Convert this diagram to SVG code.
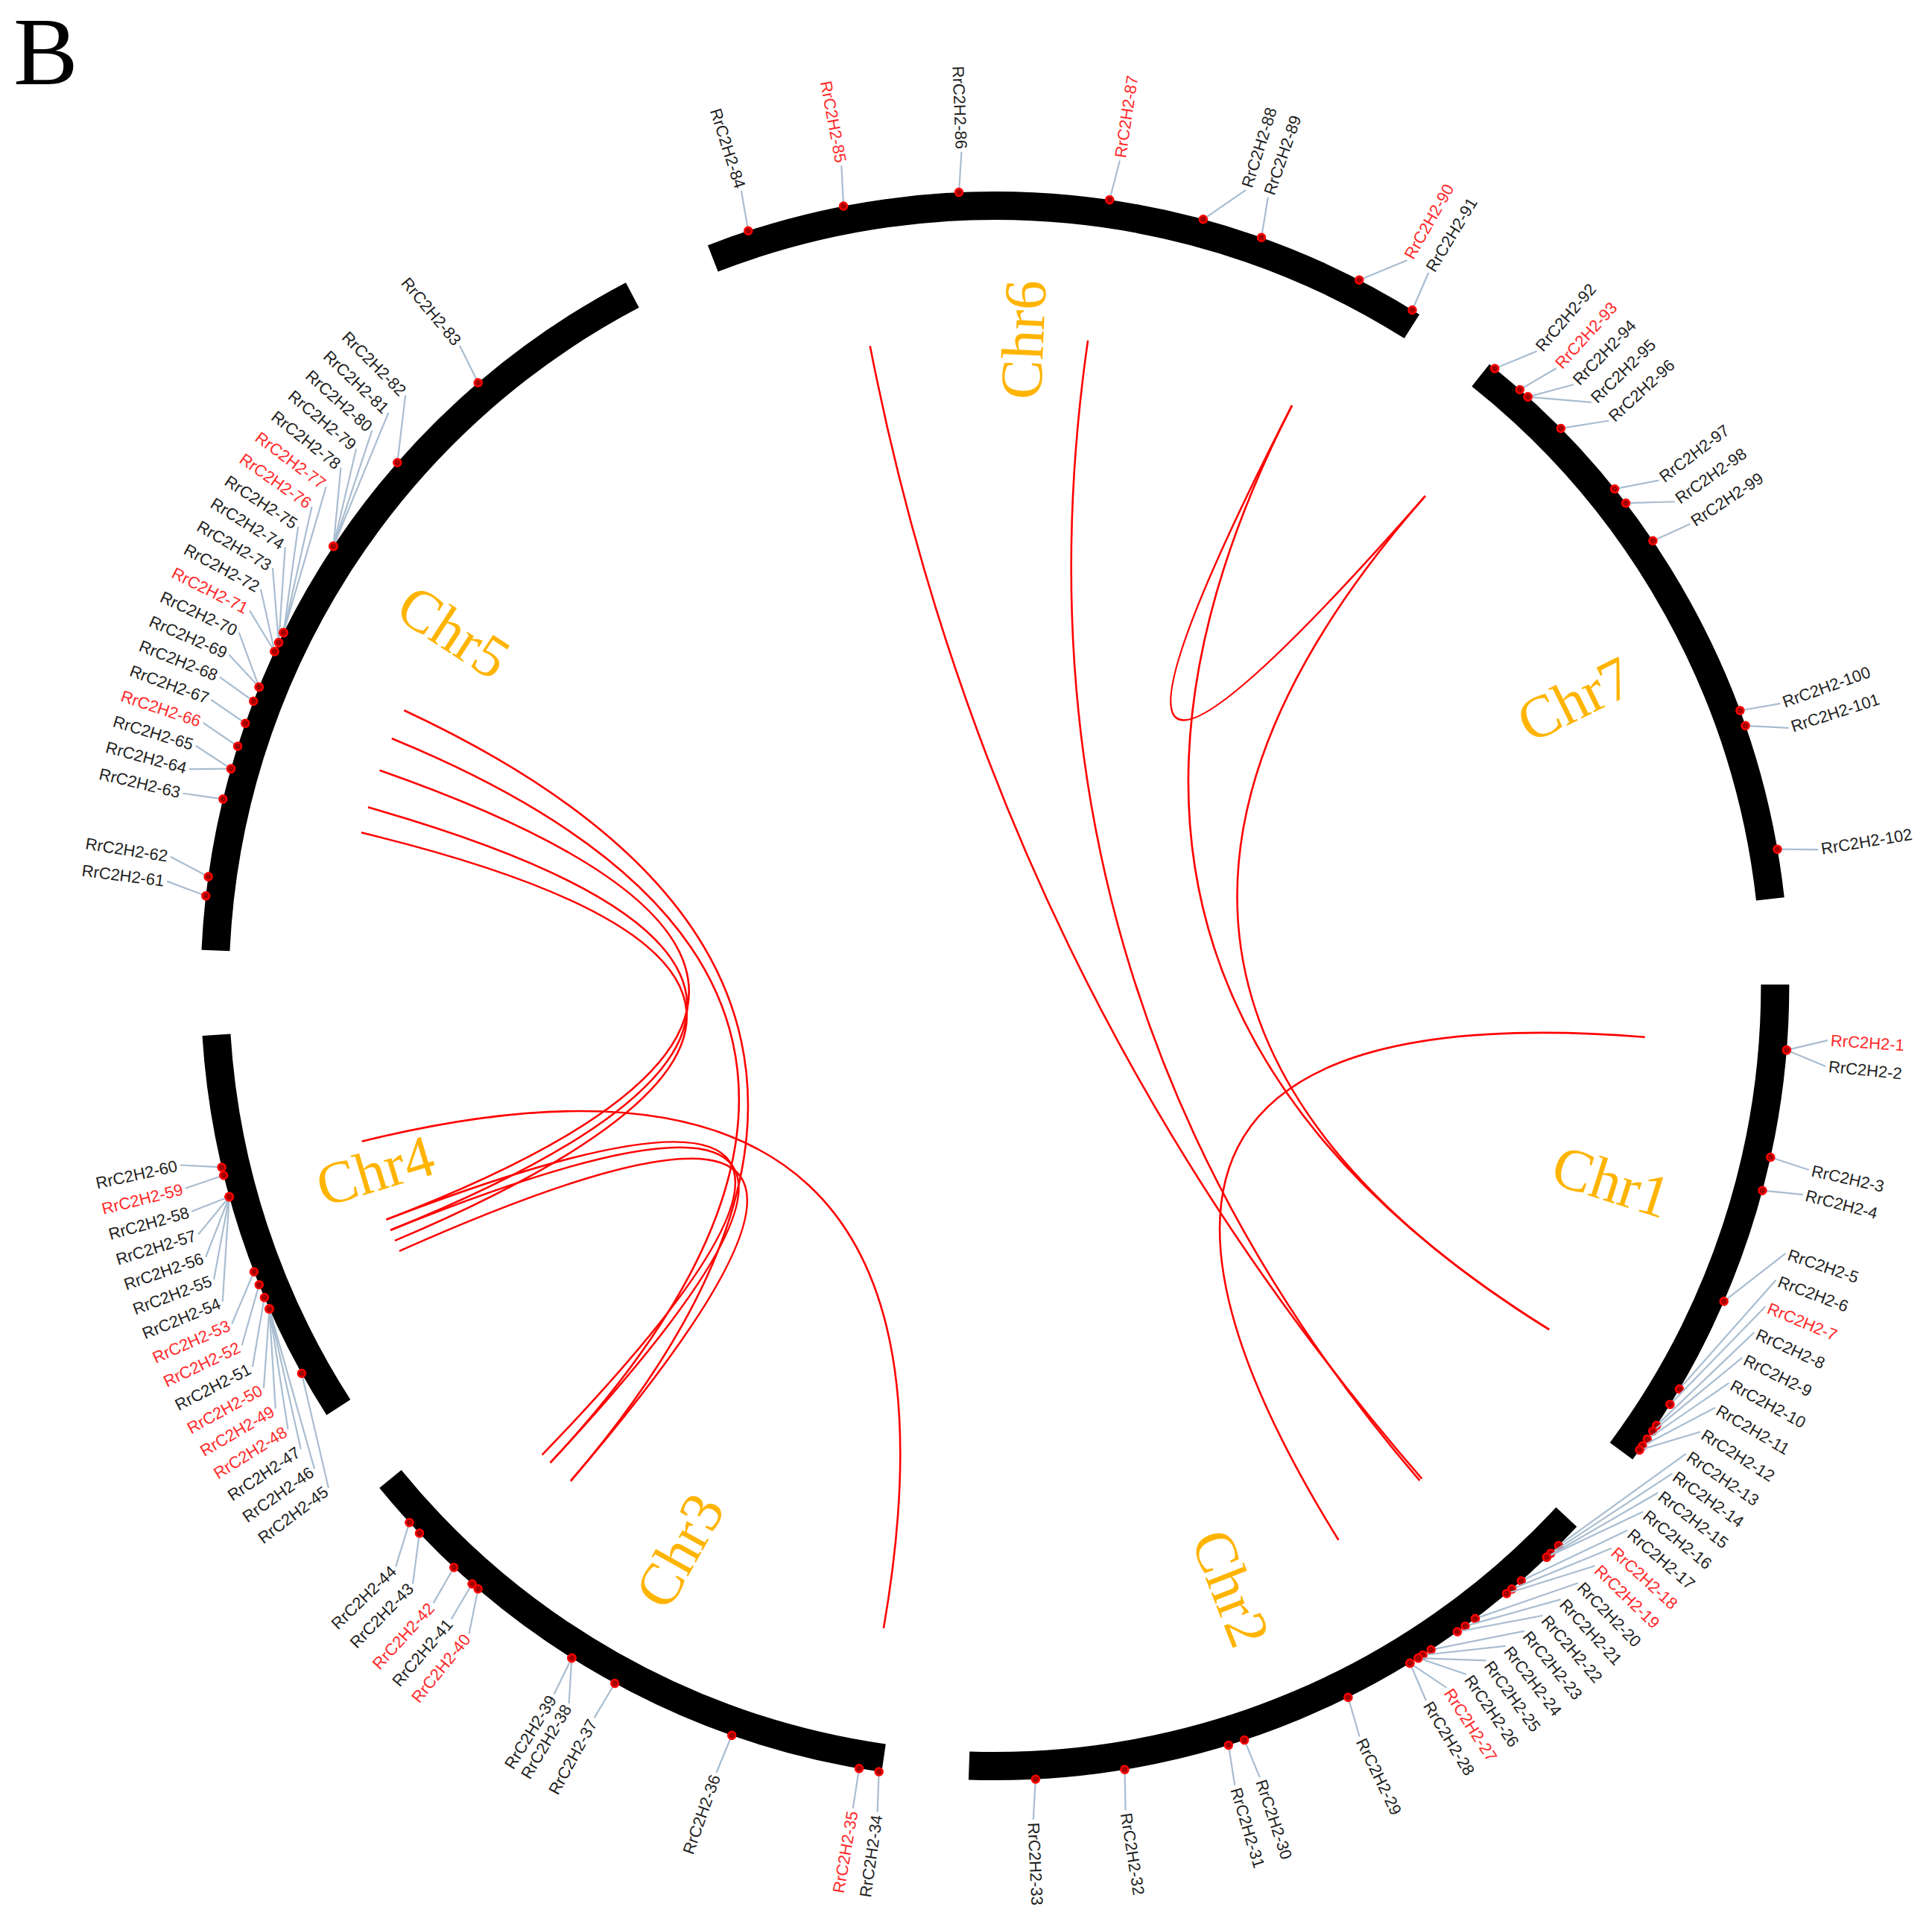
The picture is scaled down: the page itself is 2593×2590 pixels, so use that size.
<svg xmlns="http://www.w3.org/2000/svg" width="2593" height="2590" viewBox="0 0 2593 2590">
<style>
.chr{fill:none;stroke:#000;stroke-width:38}
.lk{fill:none;stroke:#ff0000;stroke-width:2.6}
.gl line{stroke:#a9bdd0;stroke-width:2.2}
.gl circle{fill:#a00000;stroke:#ff0000;stroke-width:2.5}
.gl text{font-family:"Liberation Sans",Arial,sans-serif;font-size:22px;fill:#1f1f1f;dominant-baseline:central}
.gl text.red{fill:#ff2a2a}
.R text{text-anchor:start}
.L text{text-anchor:end}
.cl{font-family:"Liberation Serif","Times New Roman",serif;font-size:80px;fill:#ffb400;text-anchor:middle;dominant-baseline:central}
</style>
<rect width="2593" height="2590" fill="#fff"/>
<text x="18" y="113" font-family="Liberation Serif,serif" font-size="130" fill="#000">B</text>
<g transform="translate(1335.4 1323)">
<g id="chromosomes">
<g id="chr1"><circle class="chr" r="1047" transform="rotate(-0.1)" stroke-dasharray="670.6 7000"/><text class="cl" transform="rotate(17.6)" x="868">Chr1</text></g>
<g id="chr2"><circle class="chr" r="1047" transform="rotate(42.9)" stroke-dasharray="895.4 7000"/><text class="cl" transform="rotate(68.6)" x="868">Chr2</text></g>
<g id="chr3"><circle class="chr" r="1047" transform="rotate(98.2)" stroke-dasharray="778.5 7000"/><text class="cl" transform="rotate(-60.8)" x="-868">Chr3</text></g>
<g id="chr4"><circle class="chr" r="1047" transform="rotate(147.3)" stroke-dasharray="531.8 7000"/><text class="cl" transform="rotate(-16.6)" x="-868">Chr4</text></g>
<g id="chr5"><circle class="chr" r="1047" transform="rotate(182.6)" stroke-dasharray="1090.9 7000"/><text class="cl" transform="rotate(33.2)" x="-868">Chr5</text></g>
<g id="chr6"><circle class="chr" r="1047" transform="rotate(248.8)" stroke-dasharray="977.6 7000"/><text class="cl" transform="rotate(-87.5)" x="868">Chr6</text></g>
<g id="chr7"><circle class="chr" r="1047" transform="rotate(-51.5)" stroke-dasharray="824.1 7000"/><text class="cl" transform="rotate(-26.3)" x="868">Chr7</text></g>
</g>
<g id="links">
<path class="lk" d="M-167.7,-858.8 Q0,0 572.9,661.4"/>
<path class="lk" d="M124.7,-866.1 Q0,0 570.0,663.9"/>
<path class="lk" d="M398.6,-778.9 Q0,0 577.5,-657.4"/>
<path class="lk" d="M398.6,-778.9 Q0,0 743.7,461.1"/>
<path class="lk" d="M577.5,-657.4 Q0,0 743.7,461.1"/>
<path class="lk" d="M872.3,68.7 Q0,0 461.1,743.7"/>
<path class="lk" d="M-849.7,208.7 Q0,0 -149.5,862.1"/>
<path class="lk" d="M-825.8,-289.2 Q0,0 -816.9,313.6"/>
<path class="lk" d="M-841.5,-239.7 Q0,0 -811.3,327.8"/>
<path class="lk" d="M-850.5,-205.7 Q0,0 -805.4,341.9"/>
<path class="lk" d="M-793.0,-369.8 Q0,0 -569.4,664.4"/>
<path class="lk" d="M-809.6,-332.0 Q0,0 -596.8,639.9"/>
<path class="lk" d="M-816.9,313.6 Q0,0 -607.8,629.4"/>
<path class="lk" d="M-811.3,327.8 Q0,0 -596.8,639.9"/>
<path class="lk" d="M-799.4,355.9 Q0,0 -569.4,664.4"/>
</g>
<g id="genes">
<g id="gene1" class="gl R" transform="rotate(3.74)"><line x1="1065.9" y1="16.7" x2="1120" y2="0"/><circle cx="1065.9" cy="16.7" r="5"/><text x="1124" class="red">RrC2H2-1</text></g>
<g id="gene2" class="gl R" transform="rotate(5.53)"><line x1="1065.9" y1="-16.6" x2="1120" y2="0"/><circle cx="1065.9" cy="-16.6" r="5"/><text x="1124">RrC2H2-2</text></g>
<g id="gene3" class="gl R" transform="rotate(12.74)"><line x1="1066" y1="-5.2" x2="1120" y2="0"/><circle cx="1066" cy="-5.2" r="5"/><text x="1124">RrC2H2-3</text></g>
<g id="gene4" class="gl R" transform="rotate(14.48)"><line x1="1066" y1="8.4" x2="1120" y2="0"/><circle cx="1066" cy="8.4" r="5"/><text x="1124">RrC2H2-4</text></g>
<g id="gene5" class="gl R" transform="rotate(18.7)"><line x1="1062.4" y1="87.3" x2="1120" y2="0"/><circle cx="1062.4" cy="87.3" r="5"/><text x="1124">RrC2H2-5</text></g>
<g id="gene6" class="gl R" transform="rotate(20.64)"><line x1="1050.3" y1="182.6" x2="1120" y2="0"/><circle cx="1050.3" cy="182.6" r="5"/><text x="1124">RrC2H2-6</text></g>
<g id="gene7" class="gl R" transform="rotate(22.59)"><line x1="1052.3" y1="170.6" x2="1120" y2="0"/><circle cx="1052.3" cy="170.6" r="5"/><text x="1124" class="red">RrC2H2-7</text></g>
<g id="gene8" class="gl R" transform="rotate(24.53)"><line x1="1052.7" y1="168.0" x2="1120" y2="0"/><circle cx="1052.7" cy="168.0" r="5"/><text x="1124">RrC2H2-8</text></g>
<g id="gene9" class="gl R" transform="rotate(26.47)"><line x1="1056.6" y1="141.5" x2="1120" y2="0"/><circle cx="1056.6" cy="141.5" r="5"/><text x="1124">RrC2H2-9</text></g>
<g id="gene10" class="gl R" transform="rotate(28.41)"><line x1="1059.4" y1="118.6" x2="1120" y2="0"/><circle cx="1059.4" cy="118.6" r="5"/><text x="1124">RrC2H2-10</text></g>
<g id="gene11" class="gl R" transform="rotate(30.36)"><line x1="1061.9" y1="93.6" x2="1120" y2="0"/><circle cx="1061.9" cy="93.6" r="5"/><text x="1124">RrC2H2-11</text></g>
<g id="gene12" class="gl R" transform="rotate(32.3)"><line x1="1064.1" y1="64.2" x2="1120" y2="0"/><circle cx="1064.1" cy="64.2" r="5"/><text x="1124">RrC2H2-12</text></g>
<g id="gene13" class="gl R" transform="rotate(34.1)"><line x1="1047.5" y1="197.9" x2="1120" y2="0"/><circle cx="1047.5" cy="197.9" r="5"/><text x="1124">RrC2H2-13</text></g>
<g id="gene14" class="gl R" transform="rotate(35.75)"><line x1="1050.3" y1="182.4" x2="1120" y2="0"/><circle cx="1050.3" cy="182.4" r="5"/><text x="1124">RrC2H2-14</text></g>
<g id="gene15" class="gl R" transform="rotate(37.4)"><line x1="1054.0" y1="159.4" x2="1120" y2="0"/><circle cx="1054.0" cy="159.4" r="5"/><text x="1124">RrC2H2-15</text></g>
<g id="gene16" class="gl R" transform="rotate(39.06)"><line x1="1058.2" y1="128.8" x2="1120" y2="0"/><circle cx="1058.2" cy="128.8" r="5"/><text x="1124">RrC2H2-16</text></g>
<g id="gene17" class="gl R" transform="rotate(40.71)"><line x1="1056.2" y1="144.5" x2="1120" y2="0"/><circle cx="1056.2" cy="144.5" r="5"/><text x="1124">RrC2H2-17</text></g>
<g id="gene18" class="gl R" transform="rotate(42.37)"><line x1="1058.0" y1="130.5" x2="1120" y2="0"/><circle cx="1058.0" cy="130.5" r="5"/><text x="1124" class="red">RrC2H2-18</text></g>
<g id="gene19" class="gl R" transform="rotate(44.02)"><line x1="1060.4" y1="109.2" x2="1120" y2="0"/><circle cx="1060.4" cy="109.2" r="5"/><text x="1124" class="red">RrC2H2-19</text></g>
<g id="gene20" class="gl R" transform="rotate(45.67)"><line x1="1057.8" y1="132.3" x2="1120" y2="0"/><circle cx="1057.8" cy="132.3" r="5"/><text x="1124">RrC2H2-20</text></g>
<g id="gene21" class="gl R" transform="rotate(47.32)"><line x1="1059.4" y1="118.5" x2="1120" y2="0"/><circle cx="1059.4" cy="118.5" r="5"/><text x="1124">RrC2H2-21</text></g>
<g id="gene22" class="gl R" transform="rotate(48.98)"><line x1="1061.2" y1="100.7" x2="1120" y2="0"/><circle cx="1061.2" cy="100.7" r="5"/><text x="1124">RrC2H2-22</text></g>
<g id="gene23" class="gl R" transform="rotate(50.63)"><line x1="1060.0" y1="112.7" x2="1120" y2="0"/><circle cx="1060.0" cy="112.7" r="5"/><text x="1124">RrC2H2-23</text></g>
<g id="gene24" class="gl R" transform="rotate(52.28)"><line x1="1061.7" y1="95.1" x2="1120" y2="0"/><circle cx="1061.7" cy="95.1" r="5"/><text x="1124">RrC2H2-24</text></g>
<g id="gene25" class="gl R" transform="rotate(53.94)"><line x1="1063.6" y1="71.8" x2="1120" y2="0"/><circle cx="1063.6" cy="71.8" r="5"/><text x="1124">RrC2H2-25</text></g>
<g id="gene26" class="gl R" transform="rotate(55.59)"><line x1="1065.2" y1="41.1" x2="1120" y2="0"/><circle cx="1065.2" cy="41.1" r="5"/><text x="1124">RrC2H2-26</text></g>
<g id="gene27" class="gl R" transform="rotate(57.24)"><line x1="1065.7" y1="23.4" x2="1120" y2="0"/><circle cx="1065.7" cy="23.4" r="5"/><text x="1124" class="red">RrC2H2-27</text></g>
<g id="gene28" class="gl R" transform="rotate(58.9)"><line x1="1066" y1="-7.4" x2="1120" y2="0"/><circle cx="1066" cy="-7.4" r="5"/><text x="1124">RrC2H2-28</text></g>
<g id="gene29" class="gl R" transform="rotate(64.1)"><line x1="1066" y1="-9.3" x2="1120" y2="0"/><circle cx="1066" cy="-9.3" r="5"/><text x="1124">RrC2H2-29</text></g>
<g id="gene30" class="gl R" transform="rotate(71.5)"><line x1="1066" y1="3.7" x2="1120" y2="0"/><circle cx="1066" cy="3.7" r="5"/><text x="1124">RrC2H2-30</text></g>
<g id="gene31" class="gl R" transform="rotate(73.3)"><line x1="1066" y1="-7.4" x2="1120" y2="0"/><circle cx="1066" cy="-7.4" r="5"/><text x="1124">RrC2H2-31</text></g>
<g id="gene32" class="gl R" transform="rotate(81.0)"><line x1="1066" y1="-7.4" x2="1120" y2="0"/><circle cx="1066" cy="-7.4" r="5"/><text x="1124">RrC2H2-32</text></g>
<g id="gene33" class="gl R" transform="rotate(87.37)"><line x1="1066" y1="-5.6" x2="1120" y2="0"/><circle cx="1066" cy="-5.6" r="5"/><text x="1124">RrC2H2-33</text></g>
<g id="gene34" class="gl L" transform="rotate(-81.9)"><line x1="-1066" y1="-5.6" x2="-1120" y2="0"/><circle cx="-1066" cy="-5.6" r="5"/><text x="-1124">RrC2H2-34</text></g>
<g id="gene35" class="gl L" transform="rotate(-80.2)"><line x1="-1066" y1="-0.9" x2="-1120" y2="0"/><circle cx="-1066" cy="-0.9" r="5"/><text x="-1124" class="red">RrC2H2-35</text></g>
<g id="gene36" class="gl L" transform="rotate(-70.5)"><line x1="-1066" y1="2.8" x2="-1120" y2="0"/><circle cx="-1066" cy="2.8" r="5"/><text x="-1124">RrC2H2-36</text></g>
<g id="gene37" class="gl L" transform="rotate(-61.3)"><line x1="-1066" y1="1.9" x2="-1120" y2="0"/><circle cx="-1066" cy="1.9" r="5"/><text x="-1124">RrC2H2-37</text></g>
<g id="gene38" class="gl L" transform="rotate(-59.3)"><line x1="-1065.6" y1="-27.9" x2="-1120" y2="0"/><circle cx="-1065.6" cy="-27.9" r="5"/><text x="-1124">RrC2H2-38</text></g>
<g id="gene39" class="gl L" transform="rotate(-58.1)"><line x1="-1066" y1="-5.6" x2="-1120" y2="0"/><circle cx="-1066" cy="-5.6" r="5"/><text x="-1124">RrC2H2-39</text></g>
<g id="gene40" class="gl L" transform="rotate(-50.93)"><line x1="-1065.6" y1="-28.5" x2="-1120" y2="0"/><circle cx="-1065.6" cy="-28.5" r="5"/><text x="-1124" class="red">RrC2H2-40</text></g>
<g id="gene41" class="gl L" transform="rotate(-49.35)"><line x1="-1066" y1="-9.7" x2="-1120" y2="0"/><circle cx="-1066" cy="-9.7" r="5"/><text x="-1124">RrC2H2-41</text></g>
<g id="gene42" class="gl L" transform="rotate(-47.7)"><line x1="-1066" y1="-11.9" x2="-1120" y2="0"/><circle cx="-1066" cy="-11.9" r="5"/><text x="-1124" class="red">RrC2H2-42</text></g>
<g id="gene43" class="gl L" transform="rotate(-45.76)"><line x1="-1065.2" y1="-40.9" x2="-1120" y2="0"/><circle cx="-1065.2" cy="-40.9" r="5"/><text x="-1124">RrC2H2-43</text></g>
<g id="gene44" class="gl L" transform="rotate(-44.1)"><line x1="-1065.6" y1="-29.8" x2="-1120" y2="0"/><circle cx="-1065.6" cy="-29.8" r="5"/><text x="-1124">RrC2H2-44</text></g>
<g id="gene45" class="gl L" transform="rotate(-37.0)"><line x1="-1056.1" y1="-144.7" x2="-1120" y2="0"/><circle cx="-1056.1" cy="-144.7" r="5"/><text x="-1124">RrC2H2-45</text></g>
<g id="gene46" class="gl L" transform="rotate(-35.36)"><line x1="-1045.1" y1="-210.0" x2="-1120" y2="0"/><circle cx="-1045.1" cy="-210.0" r="5"/><text x="-1124">RrC2H2-46</text></g>
<g id="gene47" class="gl L" transform="rotate(-33.72)"><line x1="-1050.7" y1="-180.0" x2="-1120" y2="0"/><circle cx="-1050.7" cy="-180.0" r="5"/><text x="-1124">RrC2H2-47</text></g>
<g id="gene48" class="gl L" transform="rotate(-32.08)"><line x1="-1055.4" y1="-149.8" x2="-1120" y2="0"/><circle cx="-1055.4" cy="-149.8" r="5"/><text x="-1124" class="red">RrC2H2-48</text></g>
<g id="gene49" class="gl L" transform="rotate(-30.44)"><line x1="-1059.3" y1="-119.6" x2="-1120" y2="0"/><circle cx="-1059.3" cy="-119.6" r="5"/><text x="-1124" class="red">RrC2H2-49</text></g>
<g id="gene50" class="gl L" transform="rotate(-28.8)"><line x1="-1062.3" y1="-89.2" x2="-1120" y2="0"/><circle cx="-1062.3" cy="-89.2" r="5"/><text x="-1124" class="red">RrC2H2-50</text></g>
<g id="gene51" class="gl L" transform="rotate(-27.16)"><line x1="-1063.3" y1="-75.5" x2="-1120" y2="0"/><circle cx="-1063.3" cy="-75.5" r="5"/><text x="-1124">RrC2H2-51</text></g>
<g id="gene52" class="gl L" transform="rotate(-25.52)"><line x1="-1064.1" y1="-63.6" x2="-1120" y2="0"/><circle cx="-1064.1" cy="-63.6" r="5"/><text x="-1124" class="red">RrC2H2-52</text></g>
<g id="gene53" class="gl L" transform="rotate(-23.88)"><line x1="-1064.7" y1="-51.7" x2="-1120" y2="0"/><circle cx="-1064.7" cy="-51.7" r="5"/><text x="-1124" class="red">RrC2H2-53</text></g>
<g id="gene54" class="gl L" transform="rotate(-22.24)"><line x1="-1058.4" y1="-127.0" x2="-1120" y2="0"/><circle cx="-1058.4" cy="-127.0" r="5"/><text x="-1124">RrC2H2-54</text></g>
<g id="gene55" class="gl L" transform="rotate(-20.6)"><line x1="-1061.6" y1="-96.6" x2="-1120" y2="0"/><circle cx="-1061.6" cy="-96.6" r="5"/><text x="-1124">RrC2H2-55</text></g>
<g id="gene56" class="gl L" transform="rotate(-18.96)"><line x1="-1063.9" y1="-66.2" x2="-1120" y2="0"/><circle cx="-1063.9" cy="-66.2" r="5"/><text x="-1124">RrC2H2-56</text></g>
<g id="gene57" class="gl L" transform="rotate(-17.32)"><line x1="-1065.4" y1="-35.7" x2="-1120" y2="0"/><circle cx="-1065.4" cy="-35.7" r="5"/><text x="-1124">RrC2H2-57</text></g>
<g id="gene58" class="gl L" transform="rotate(-15.68)"><line x1="-1066" y1="-5.2" x2="-1120" y2="0"/><circle cx="-1066" cy="-5.2" r="5"/><text x="-1124">RrC2H2-58</text></g>
<g id="gene59" class="gl L" transform="rotate(-14.04)"><line x1="-1066" y1="-4.5" x2="-1120" y2="0"/><circle cx="-1066" cy="-4.5" r="5"/><text x="-1124" class="red">RrC2H2-59</text></g>
<g id="gene60" class="gl L" transform="rotate(-12.4)"><line x1="-1065.9" y1="14.9" x2="-1120" y2="0"/><circle cx="-1065.9" cy="14.9" r="5"/><text x="-1124">RrC2H2-60</text></g>
<g id="gene61" class="gl L" transform="rotate(7.2)"><line x1="-1065.9" y1="13.0" x2="-1120" y2="0"/><circle cx="-1065.9" cy="13.0" r="5"/><text x="-1124">RrC2H2-61</text></g>
<g id="gene62" class="gl L" transform="rotate(8.9)"><line x1="-1065.8" y1="18.6" x2="-1120" y2="0"/><circle cx="-1065.8" cy="18.6" r="5"/><text x="-1124">RrC2H2-62</text></g>
<g id="gene63" class="gl L" transform="rotate(13.33)"><line x1="-1066" y1="-5.0" x2="-1120" y2="0"/><circle cx="-1066" cy="-5.0" r="5"/><text x="-1124">RrC2H2-63</text></g>
<g id="gene64" class="gl L" transform="rotate(15.05)"><line x1="-1065.9" y1="-15.1" x2="-1120" y2="0"/><circle cx="-1065.9" cy="-15.1" r="5"/><text x="-1124">RrC2H2-64</text></g>
<g id="gene65" class="gl L" transform="rotate(16.72)"><line x1="-1065.9" y1="16.0" x2="-1120" y2="0"/><circle cx="-1065.9" cy="16.0" r="5"/><text x="-1124">RrC2H2-65</text></g>
<g id="gene66" class="gl L" transform="rotate(18.38)"><line x1="-1065.9" y1="15.4" x2="-1120" y2="0"/><circle cx="-1065.9" cy="15.4" r="5"/><text x="-1124" class="red">RrC2H2-66</text></g>
<g id="gene67" class="gl L" transform="rotate(20.05)"><line x1="-1065.9" y1="14.0" x2="-1120" y2="0"/><circle cx="-1065.9" cy="14.0" r="5"/><text x="-1124">RrC2H2-67</text></g>
<g id="gene68" class="gl L" transform="rotate(21.72)"><line x1="-1065.9" y1="13.4" x2="-1120" y2="0"/><circle cx="-1065.9" cy="13.4" r="5"/><text x="-1124">RrC2H2-68</text></g>
<g id="gene69" class="gl L" transform="rotate(23.38)"><line x1="-1065.7" y1="23.8" x2="-1120" y2="0"/><circle cx="-1065.7" cy="23.8" r="5"/><text x="-1124">RrC2H2-69</text></g>
<g id="gene70" class="gl L" transform="rotate(25.05)"><line x1="-1064.6" y1="54.9" x2="-1120" y2="0"/><circle cx="-1064.6" cy="54.9" r="5"/><text x="-1124">RrC2H2-70</text></g>
<g id="gene71" class="gl L" transform="rotate(26.72)"><line x1="-1065.5" y1="33.9" x2="-1120" y2="0"/><circle cx="-1065.5" cy="33.9" r="5"/><text x="-1124" class="red">RrC2H2-71</text></g>
<g id="gene72" class="gl L" transform="rotate(28.38)"><line x1="-1064.0" y1="64.7" x2="-1120" y2="0"/><circle cx="-1064.0" cy="64.7" r="5"/><text x="-1124">RrC2H2-72</text></g>
<g id="gene73" class="gl L" transform="rotate(30.05)"><line x1="-1062.8" y1="82.7" x2="-1120" y2="0"/><circle cx="-1062.8" cy="82.7" r="5"/><text x="-1124">RrC2H2-73</text></g>
<g id="gene74" class="gl L" transform="rotate(31.72)"><line x1="-1059.9" y1="113.6" x2="-1120" y2="0"/><circle cx="-1059.9" cy="113.6" r="5"/><text x="-1124">RrC2H2-74</text></g>
<g id="gene75" class="gl L" transform="rotate(33.38)"><line x1="-1058.1" y1="129.6" x2="-1120" y2="0"/><circle cx="-1058.1" cy="129.6" r="5"/><text x="-1124">RrC2H2-75</text></g>
<g id="gene76" class="gl L" transform="rotate(35.05)"><line x1="-1053.9" y1="160.3" x2="-1120" y2="0"/><circle cx="-1053.9" cy="160.3" r="5"/><text x="-1124" class="red">RrC2H2-76</text></g>
<g id="gene77" class="gl L" transform="rotate(36.72)"><line x1="-1048.8" y1="191.0" x2="-1120" y2="0"/><circle cx="-1048.8" cy="191.0" r="5"/><text x="-1124" class="red">RrC2H2-77</text></g>
<g id="gene78" class="gl L" transform="rotate(38.38)"><line x1="-1062.3" y1="88.8" x2="-1120" y2="0"/><circle cx="-1062.3" cy="88.8" r="5"/><text x="-1124">RrC2H2-78</text></g>
<g id="gene79" class="gl L" transform="rotate(40.05)"><line x1="-1059.3" y1="119.7" x2="-1120" y2="0"/><circle cx="-1059.3" cy="119.7" r="5"/><text x="-1124">RrC2H2-79</text></g>
<g id="gene80" class="gl L" transform="rotate(41.72)"><line x1="-1055.3" y1="150.6" x2="-1120" y2="0"/><circle cx="-1055.3" cy="150.6" r="5"/><text x="-1124">RrC2H2-80</text></g>
<g id="gene81" class="gl L" transform="rotate(43.38)"><line x1="-1050.5" y1="181.1" x2="-1120" y2="0"/><circle cx="-1050.5" cy="181.1" r="5"/><text x="-1124">RrC2H2-81</text></g>
<g id="gene82" class="gl L" transform="rotate(45.05)"><line x1="-1063.6" y1="71.6" x2="-1120" y2="0"/><circle cx="-1063.6" cy="71.6" r="5"/><text x="-1124">RrC2H2-82</text></g>
<g id="gene83" class="gl L" transform="rotate(50.1)"><line x1="-1065.9" y1="13.0" x2="-1120" y2="0"/><circle cx="-1065.9" cy="13.0" r="5"/><text x="-1124">RrC2H2-83</text></g>
<g id="gene84" class="gl L" transform="rotate(72.3)"><line x1="-1066" y1="7.4" x2="-1120" y2="0"/><circle cx="-1066" cy="7.4" r="5"/><text x="-1124">RrC2H2-84</text></g>
<g id="gene85" class="gl L" transform="rotate(79.4)"><line x1="-1066" y1="7.4" x2="-1120" y2="0"/><circle cx="-1066" cy="7.4" r="5"/><text x="-1124" class="red">RrC2H2-85</text></g>
<g id="gene86" class="gl L" transform="rotate(87.7)"><line x1="-1066" y1="5.6" x2="-1120" y2="0"/><circle cx="-1066" cy="5.6" r="5"/><text x="-1124">RrC2H2-86</text></g>
<g id="gene87" class="gl R" transform="rotate(-81.4)"><line x1="1066" y1="-5.6" x2="1120" y2="0"/><circle cx="1066" cy="-5.6" r="5"/><text x="1124" class="red">RrC2H2-87</text></g>
<g id="gene88" class="gl R" transform="rotate(-72.5)"><line x1="1065.1" y1="-42.8" x2="1120" y2="0"/><circle cx="1065.1" cy="-42.8" r="5"/><text x="1124">RrC2H2-88</text></g>
<g id="gene89" class="gl R" transform="rotate(-70.9)"><line x1="1066" y1="9.3" x2="1120" y2="0"/><circle cx="1066" cy="9.3" r="5"/><text x="1124">RrC2H2-89</text></g>
<g id="gene90" class="gl R" transform="rotate(-60.4)"><line x1="1065.1" y1="-42.8" x2="1120" y2="0"/><circle cx="1065.1" cy="-42.8" r="5"/><text x="1124" class="red">RrC2H2-90</text></g>
<g id="gene91" class="gl R" transform="rotate(-58.7)"><line x1="1066" y1="7.4" x2="1120" y2="0"/><circle cx="1066" cy="7.4" r="5"/><text x="1124">RrC2H2-91</text></g>
<g id="gene92" class="gl R" transform="rotate(-49.5)"><line x1="1065.6" y1="-27.9" x2="1120" y2="0"/><circle cx="1065.6" cy="-27.9" r="5"/><text x="1124">RrC2H2-92</text></g>
<g id="gene93" class="gl R" transform="rotate(-47.73)"><line x1="1065.9" y1="-16.9" x2="1120" y2="0"/><circle cx="1065.9" cy="-16.9" r="5"/><text x="1124" class="red">RrC2H2-93</text></g>
<g id="gene94" class="gl R" transform="rotate(-46.1)"><line x1="1065.5" y1="-32.7" x2="1120" y2="0"/><circle cx="1065.5" cy="-32.7" r="5"/><text x="1124">RrC2H2-94</text></g>
<g id="gene95" class="gl R" transform="rotate(-44.37)"><line x1="1064.0" y1="-64.9" x2="1120" y2="0"/><circle cx="1064.0" cy="-64.9" r="5"/><text x="1124">RrC2H2-95</text></g>
<g id="gene96" class="gl R" transform="rotate(-42.63)"><line x1="1065.4" y1="-36.1" x2="1120" y2="0"/><circle cx="1065.4" cy="-36.1" r="5"/><text x="1124">RrC2H2-96</text></g>
<g id="gene97" class="gl R" transform="rotate(-37.28)"><line x1="1065.7" y1="-26.8" x2="1120" y2="0"/><circle cx="1065.7" cy="-26.8" r="5"/><text x="1124">RrC2H2-97</text></g>
<g id="gene98" class="gl R" transform="rotate(-35.46)"><line x1="1065.4" y1="-36.5" x2="1120" y2="0"/><circle cx="1065.4" cy="-36.5" r="5"/><text x="1124">RrC2H2-98</text></g>
<g id="gene99" class="gl R" transform="rotate(-33.6)"><line x1="1066" y1="-8.9" x2="1120" y2="0"/><circle cx="1066" cy="-8.9" r="5"/><text x="1124">RrC2H2-99</text></g>
<g id="gene100" class="gl R" transform="rotate(-19.77)"><line x1="1066" y1="-9.5" x2="1120" y2="0"/><circle cx="1066" cy="-9.5" r="5"/><text x="1124">RrC2H2-100</text></g>
<g id="gene101" class="gl R" transform="rotate(-18.0)"><line x1="1065.8" y1="-20.8" x2="1120" y2="0"/><circle cx="1065.8" cy="-20.8" r="5"/><text x="1124">RrC2H2-101</text></g>
<g id="gene102" class="gl R" transform="rotate(-9.4)"><line x1="1066" y1="-9.3" x2="1120" y2="0"/><circle cx="1066" cy="-9.3" r="5"/><text x="1124">RrC2H2-102</text></g>
</g>
</g>
</svg>
